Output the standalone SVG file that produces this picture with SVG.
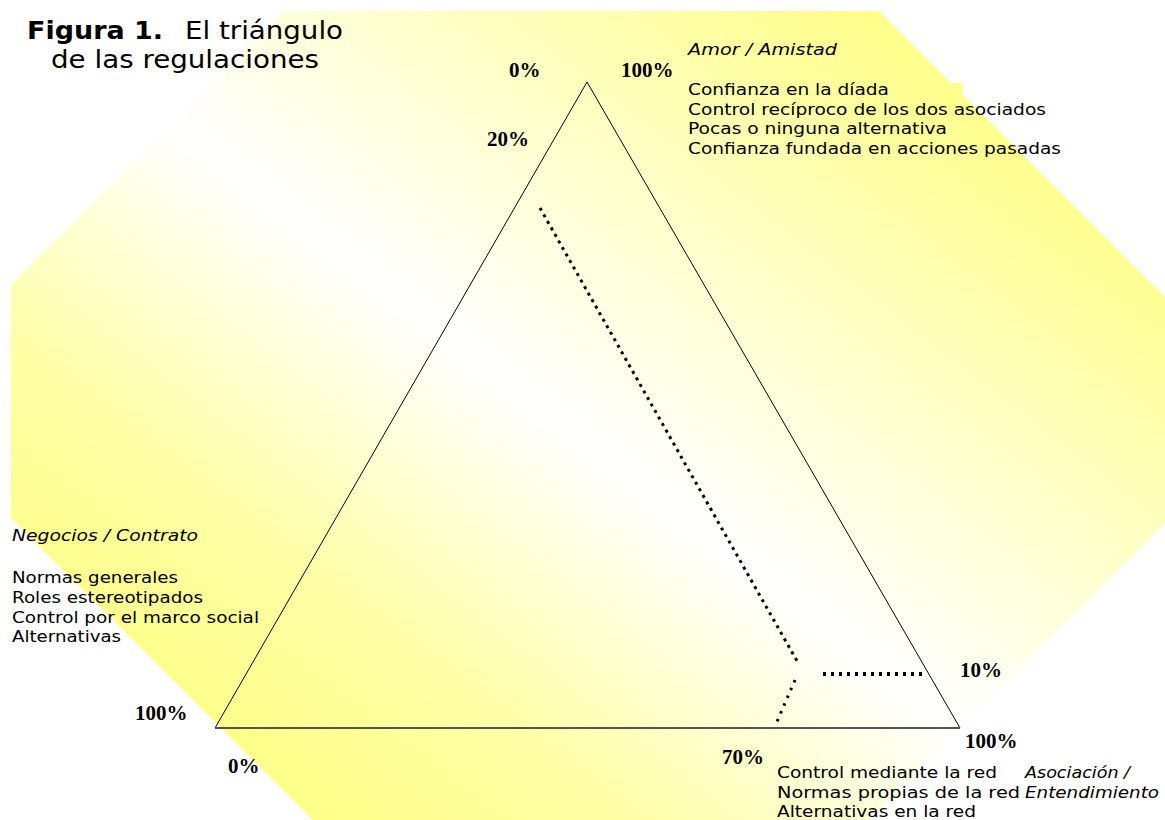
<svg xmlns="http://www.w3.org/2000/svg" width="1165" height="820" viewBox="0 0 1165 820">
<defs>
<linearGradient id="bg" gradientUnits="userSpaceOnUse" x1="-280" y1="364" x2="323" y2="-420">
<stop offset="0" stop-color="#FFFF88"/>
<stop offset="0.2" stop-color="#FFFFA8"/>
<stop offset="0.47" stop-color="#FFFFFF"/>
<stop offset="0.75" stop-color="#FFFFC0"/>
<stop offset="1" stop-color="#FFFF88"/>
</linearGradient>
<style>
.pct{font-family:"Liberation Serif","Times New Roman",serif;font-weight:bold;font-size:21px;fill:#000}
.txt{font-family:"DejaVu Sans",Verdana,sans-serif;font-size:16px;fill:#000}
.it{font-style:italic}
.title{font-family:"DejaVu Sans",Verdana,sans-serif;font-size:25px;fill:#000}
.side{fill:none;stroke:#000;stroke-width:1}
.dot{fill:none;stroke:#000}
</style>
</defs>
<rect width="1165" height="820" fill="#FFFFFF"/>
<polygon id="background" fill="url(#bg)" points="285,11 879,11 951,83 963,83 963,95 1165,297 1165,523 868,820 313,820 11,518 11,285"/>

<g id="title">
<text class="title" x="27" y="39" font-weight="bold" textLength="136" lengthAdjust="spacingAndGlyphs">Figura 1.</text>
<text class="title" x="185" y="39" textLength="158" lengthAdjust="spacingAndGlyphs">El triángulo</text>
<text class="title" x="51" y="68" textLength="268" lengthAdjust="spacingAndGlyphs">de las regulaciones</text>
</g>

<g id="triangle">
<polyline class="side" points="215,728 587,82 960,728"/>
<line x1="215" y1="728" x2="960" y2="728" stroke="#555" stroke-width="2"/>
</g>

<g id="connectors">
<line class="dot" x1="540" y1="208" x2="797" y2="661" stroke-width="3" stroke-dasharray="3 4.5"/>
<line class="dot" x1="823" y1="674" x2="927" y2="674" stroke-width="4" stroke-dasharray="3 5"/>
<line class="dot" x1="795" y1="680" x2="776" y2="724" stroke-width="3" stroke-dasharray="2.5 6"/>
</g>

<g id="percentages">
<text class="pct" x="509" y="77">0%</text>
<text class="pct" x="621" y="77">100%</text>
<text class="pct" x="487" y="146">20%</text>
<text class="pct" x="135" y="720">100%</text>
<text class="pct" x="228" y="773">0%</text>
<text class="pct" x="722" y="764">70%</text>
<text class="pct" x="960" y="677">10%</text>
<text class="pct" x="965" y="748">100%</text>
</g>

<g id="node-amor">
<text class="txt it" x="688" y="55" textLength="149" lengthAdjust="spacingAndGlyphs">Amor / Amistad</text>
<text class="txt" x="688" y="95" textLength="201" lengthAdjust="spacingAndGlyphs">Confianza en la díada</text>
<text class="txt" x="688" y="114.5" textLength="358" lengthAdjust="spacingAndGlyphs">Control recíproco de los dos asociados</text>
<text class="txt" x="688" y="134" textLength="259" lengthAdjust="spacingAndGlyphs">Pocas o ninguna alternativa</text>
<text class="txt" x="688" y="153.5" textLength="373" lengthAdjust="spacingAndGlyphs">Confianza fundada en acciones pasadas</text>
</g>

<g id="node-negocios">
<text class="txt it" x="12" y="541" textLength="186" lengthAdjust="spacingAndGlyphs">Negocios / Contrato</text>
<text class="txt" x="12" y="583" textLength="166" lengthAdjust="spacingAndGlyphs">Normas generales</text>
<text class="txt" x="12" y="603" textLength="191" lengthAdjust="spacingAndGlyphs">Roles estereotipados</text>
<text class="txt" x="12" y="623" textLength="247" lengthAdjust="spacingAndGlyphs">Control por el marco social</text>
<text class="txt" x="12" y="642" textLength="109" lengthAdjust="spacingAndGlyphs">Alternativas</text>
</g>

<g id="node-asociacion">
<text class="txt" x="777" y="778" textLength="220" lengthAdjust="spacingAndGlyphs">Control mediante la red</text>
<text class="txt" x="777" y="798" textLength="243" lengthAdjust="spacingAndGlyphs">Normas propias de la red</text>
<text class="txt" x="777" y="817" textLength="199" lengthAdjust="spacingAndGlyphs">Alternativas en la red</text>
<text class="txt it" x="1025" y="778" textLength="105" lengthAdjust="spacingAndGlyphs">Asociación /</text>
<text class="txt it" x="1025" y="798" textLength="134" lengthAdjust="spacingAndGlyphs">Entendimiento</text>
</g>
</svg>
